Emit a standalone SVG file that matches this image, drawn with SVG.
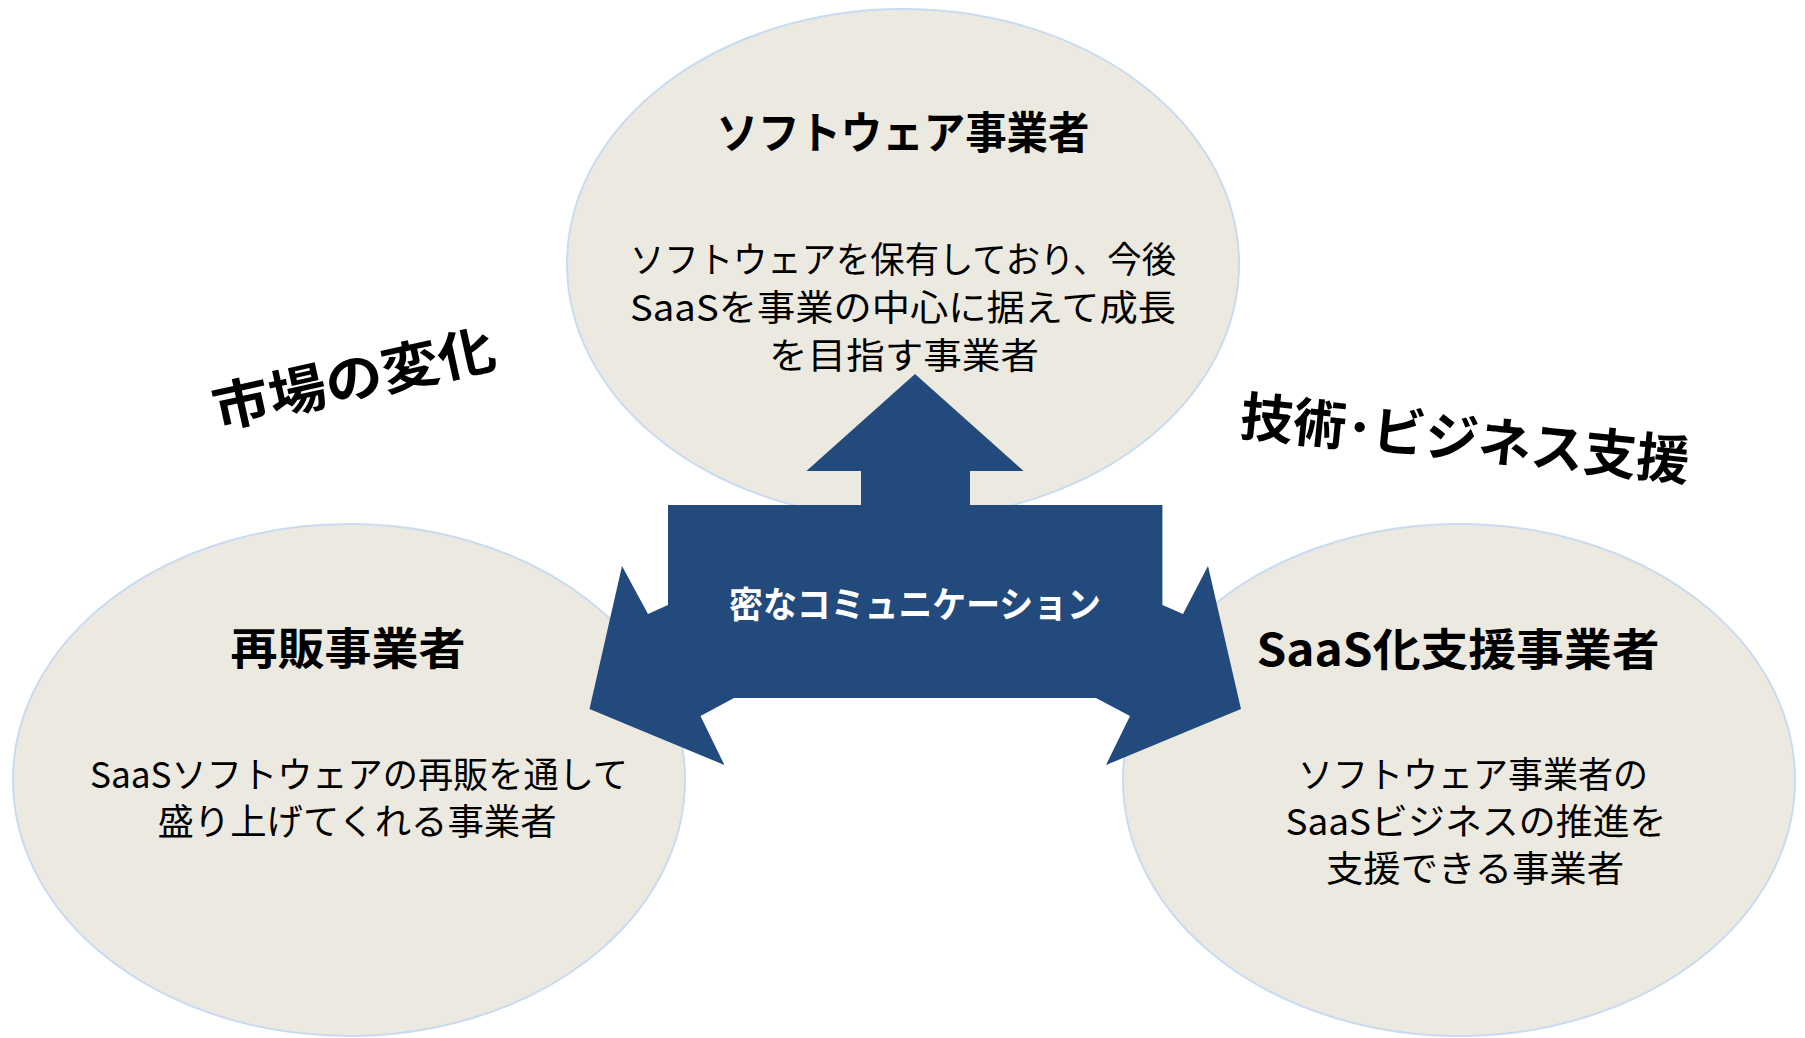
<svg xmlns="http://www.w3.org/2000/svg" width="1805" height="1038" viewBox="0 0 1805 1038">
<style>
.node{fill:#ECEAE0;stroke:#C9DBF0;stroke-width:2}
.t{font-family:"Noto Sans CJK JP","Liberation Sans",sans-serif;text-anchor:middle;fill:#000}
.title{font-size:44px;font-weight:700}
.body{font-size:36px;font-weight:400}
.side{font-size:53px;font-weight:700}
.comm{font-size:36px;font-weight:700;fill:#fff}
.arrow{fill:#224A7C}
</style>
<rect width="1805" height="1038" fill="#fff"/>
<g id="node-software">
<ellipse class="node" cx="903" cy="264" rx="336" ry="255"/>
<text class="t title" x="903" y="149" textLength="373" lengthAdjust="spacingAndGlyphs">ソフトウェア事業者</text>
<text class="t body" x="903" y="273" textLength="546" lengthAdjust="spacingAndGlyphs">ソフトウェアを保有しており、今後</text>
<text class="t body" x="903" y="321" textLength="546" lengthAdjust="spacingAndGlyphs">SaaSを事業の中心に据えて成長</text>
<text class="t body" x="904" y="369" textLength="270" lengthAdjust="spacingAndGlyphs">を目指す事業者</text>
</g>
<g id="node-reseller">
<ellipse class="node" cx="349" cy="780" rx="336" ry="256"/>
<text class="t title" x="348" y="665" textLength="235" lengthAdjust="spacingAndGlyphs">再販事業者</text>
<text class="t body" x="359" y="788" textLength="538" lengthAdjust="spacingAndGlyphs">SaaSソフトウェアの再販を通して</text>
<text class="t body" x="357" y="835" textLength="399" lengthAdjust="spacingAndGlyphs">盛り上げてくれる事業者</text>
</g>
<g id="node-support">
<ellipse class="node" cx="1459" cy="780" rx="336" ry="256"/>
<text class="t title" x="1458" y="666" textLength="403" lengthAdjust="spacingAndGlyphs">SaaS化支援事業者</text>
<text class="t body" x="1473" y="788" textLength="350" lengthAdjust="spacingAndGlyphs">ソフトウェア事業者の</text>
<text class="t body" x="1476" y="835" textLength="381" lengthAdjust="spacingAndGlyphs">SaaSビジネスの推進を</text>
<text class="t body" x="1475" y="882" textLength="298" lengthAdjust="spacingAndGlyphs">支援できる事業者</text>
</g>
<g id="connectors">
<path class="arrow" d="M915,374 L1023.6,471 L970,471 L970,505 L1162.4,505 L1162.4,605 L1183,614 L1208,566 L1241,709 L1106,765 L1130,716 L1096,698 L734,698 L700.5,716 L724.4,765 L589.5,709 L622,566 L648,614 L668,605 L668,505 L861,505 L861,471 L806.4,471 Z"/>
<text class="t comm" x="915" y="618" textLength="372" lengthAdjust="spacingAndGlyphs">密なコミュニケーション</text>
</g>
<g id="label-market">
<text class="t side" x="354" y="398" transform="rotate(-12.5 354 380)" textLength="288" lengthAdjust="spacingAndGlyphs">市場の変化</text>
</g>
<g id="label-support">
<text class="t side" x="1465" y="458" font-size="50" transform="rotate(5.8 1465 440)" textLength="451" lengthAdjust="spacingAndGlyphs">技術･ビジネス支援</text>
</g>
</svg>
